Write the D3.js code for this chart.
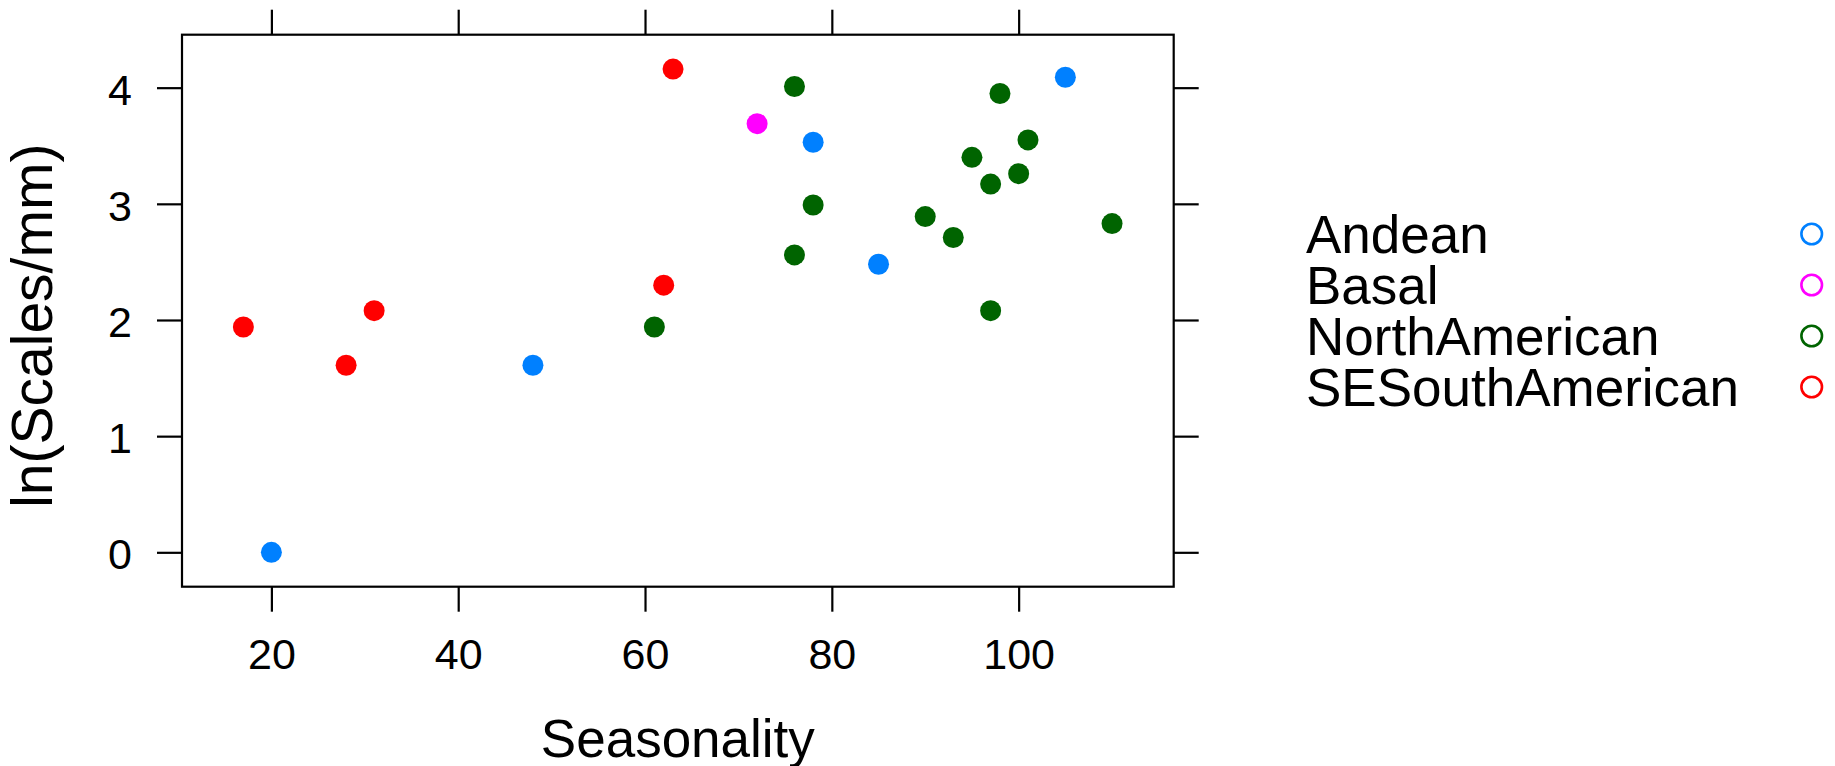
<!DOCTYPE html>
<html>
<head>
<meta charset="utf-8">
<script src="https://cdn.jsdelivr.net/npm/d3@7"></script>
<style>
  html, body { margin: 0; padding: 0; background: #ffffff; }
  svg { display: block; }
  text { font-family: "Liberation Sans", Arial, Helvetica, sans-serif; fill: #000; }
</style>
</head>
<body>
<svg id="chart" width="1835" height="766"></svg>
<script>
// ---- Data ----
const groups = ["Andean", "Basal", "NorthAmerican", "SESouthAmerican"];
const groupColors = ["#0080ff", "#ff00ff", "#006400", "#ff0000"];

const andeanX = [20, 48, 78, 85, 105];
const andeanY = [0.00, 1.61, 3.53, 2.48, 4.09];

const basalX = [72];
const basalY = [3.69];

const northAmericanX = [61, 76, 76, 78, 90, 93, 95, 97, 97, 98, 100, 101, 110];
const northAmericanY = [1.94, 4.01, 2.56, 2.99, 2.89, 2.71, 3.40, 3.17, 2.08, 3.95, 3.26, 3.55, 2.83];

const seSouthAmericanX = [17, 28, 31, 62, 63];
const seSouthAmericanY = [1.94, 1.61, 2.08, 2.30, 4.16];

const xTicks = [20, 40, 60, 80, 100];
const yTicks = [0, 1, 2, 3, 4];
const xTitle = "Seasonality";
const yTitle = "ln(Scales/mm)";

const seriesX = [andeanX, basalX, northAmericanX, seSouthAmericanX];
const seriesY = [andeanY, basalY, northAmericanY, seSouthAmericanY];

// ---- Layout ----
const svg = d3.select("#chart");
const panel = { left: 182, right: 1173.7, top: 34.7, bottom: 586.7 };
const tickLen = 25;
const tickFont = 43;
const titleFont = 53;

const x = d3.scaleLinear().domain([10.43, 116.6]).range([panel.left, panel.right]);
const y = d3.scaleLinear().domain([-0.296, 4.456]).range([panel.bottom, panel.top]);

svg.append("rect").attr("x", 0).attr("y", 0).attr("width", 1835).attr("height", 766).attr("fill", "#fff");

function styleAxis(g) {
  g.select(".domain").remove();
  g.selectAll(".tick line").attr("stroke", "#000").attr("stroke-width", 2.2);
  g.selectAll(".tick text").attr("font-size", tickFont).attr("fill", "#000")
    .attr("font-family", "'Liberation Sans', Arial, sans-serif");
}

// bottom axis with labels
const gB = svg.append("g").attr("transform", `translate(0,${panel.bottom})`)
  .call(d3.axisBottom(x).tickValues(xTicks).tickSize(tickLen).tickSizeOuter(0).tickPadding(27).tickFormat(d3.format("d")));
styleAxis(gB);
// top axis ticks only
const gT = svg.append("g").attr("transform", `translate(0,${panel.top})`)
  .call(d3.axisTop(x).tickValues(xTicks).tickSize(tickLen).tickSizeOuter(0));
styleAxis(gT);
gT.selectAll(".tick text").remove();
// left axis with labels
const gL = svg.append("g").attr("transform", `translate(${panel.left},0)`)
  .call(d3.axisLeft(y).tickValues(yTicks).tickSize(tickLen).tickSizeOuter(0).tickPadding(25).tickFormat(d3.format("d")));
styleAxis(gL);
gL.selectAll(".tick text").attr("dy", "0.38em");
// right axis ticks only
const gR = svg.append("g").attr("transform", `translate(${panel.right},0)`)
  .call(d3.axisRight(y).tickValues(yTicks).tickSize(tickLen).tickSizeOuter(0));
styleAxis(gR);
gR.selectAll(".tick text").remove();

// panel box
svg.append("rect")
  .attr("x", panel.left).attr("y", panel.top)
  .attr("width", panel.right - panel.left).attr("height", panel.bottom - panel.top)
  .attr("fill", "none").attr("stroke", "#000").attr("stroke-width", 2.2);

// points
const pts = svg.append("g");
groups.forEach((gname, gi) => {
  const xs = seriesX[gi], ys = seriesY[gi];
  pts.selectAll(null).data(xs.map((v, i) => [v, ys[i]])).enter()
    .append("circle")
    .attr("cx", d => x(d[0])).attr("cy", d => y(d[1]))
    .attr("r", 10.5)
    .attr("fill", groupColors[gi]);
});

// axis titles
svg.append("text")
  .attr("x", (panel.left + panel.right) / 2).attr("y", 757)
  .attr("text-anchor", "middle").attr("font-size", titleFont)
  .text(xTitle);
svg.append("text")
  .attr("transform", `translate(52,${(panel.top + panel.bottom) / 2 + 15}) rotate(-90)`)
  .attr("text-anchor", "middle").attr("font-size", 57)
  .text(yTitle);

// legend
const legend = svg.append("g");
const rowStep = 51;
groups.forEach((gname, gi) => {
  const base = 253.3 + gi * rowStep;
  legend.append("text").attr("x", 1306).attr("y", base)
    .attr("font-size", titleFont).text(gname);
  legend.append("circle").attr("cx", 1811.7).attr("cy", base - 19.3)
    .attr("r", 10.3).attr("fill", "none")
    .attr("stroke", groupColors[gi]).attr("stroke-width", 2.6);
});
</script>
</body>
</html>
